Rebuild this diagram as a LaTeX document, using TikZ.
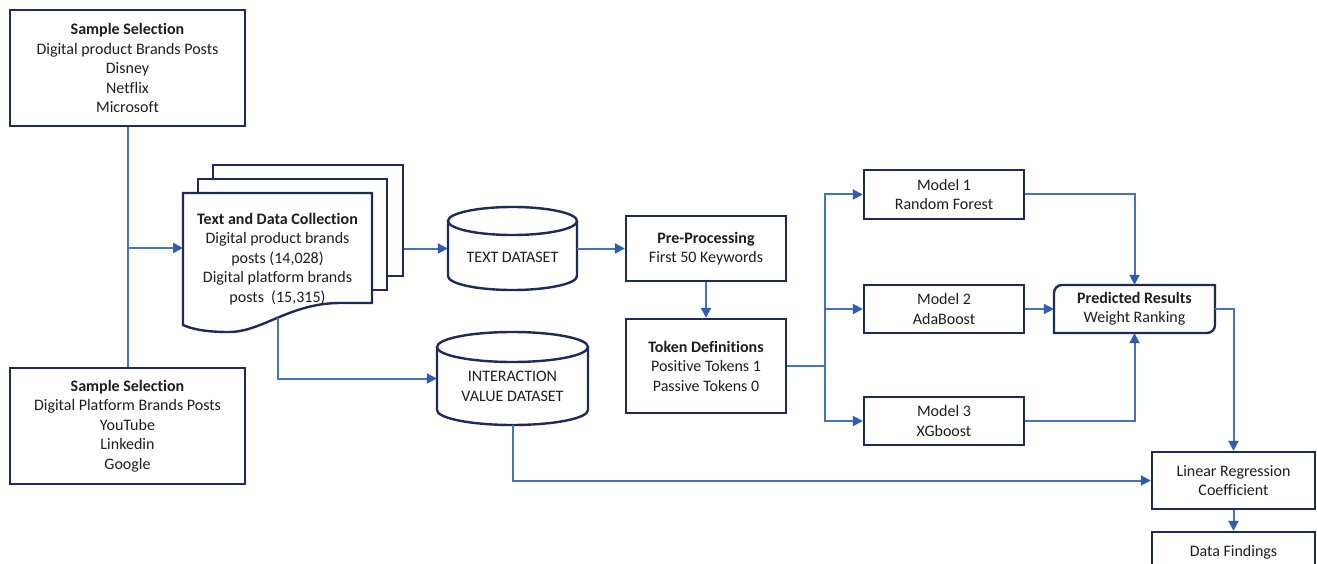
\documentclass[tikz,border=0pt]{standalone}
\usepackage{fontspec}
\setmainfont{Carlito}[Ligatures=NoCommon]
\usetikzlibrary{arrows.meta}
\definecolor{boxc}{HTML}{1F2A5C}
\definecolor{linec}{HTML}{4472C4}
\definecolor{tipc}{HTML}{2E5BB5}
\definecolor{txtc}{HTML}{1E1E1E}
\tikzset{
  box/.style={draw=boxc, line width=2.4pt, fill=white},
  blk/.style={box, minimum width=#1, inner sep=0pt, align=center, text=txtc,
    font=\fontsize{16}{19.5}\selectfont},
  txt/.style={inner sep=0pt, align=center, text=txtc, font=\fontsize{16}{19.5}\selectfont},
  hole/.style={inner sep=0pt, minimum width=#1},
  conn/.style={draw=linec, line width=2pt},
  arr/.style={conn, -{Triangle[length=10pt,width=10pt,color=tipc]}},
}
\begin{document}
\begin{tikzpicture}[x=1pt,y=-1pt]
\useasboundingbox (0,0) rectangle (1317,564);
\clip (0,0) rectangle (1317,564);
\fill[white] (0,0) rectangle (1317,564);

% sample selection boxes
\node[blk=235pt, minimum height=116pt] (ss1) at (127.5,68)
  {\textbf{Sample Selection}\\Digital product Brands Posts\\Disney\\Netflix\\Microsoft};
\node[blk=235pt, minimum height=116pt] (ss2) at (127.5,426)
  {\textbf{Sample Selection}\\Digital Platform Brands Posts\\YouTube\\Linkedin\\Google};

% document stack
\node[box, hole=190pt, minimum height=111pt] (docb) at (308,220.5) {};
\node[box, hole=189pt, minimum height=111pt] (docm) at (292.5,234.5) {};
\path[box] (183,193) -- (372,193) -- (372,303) -- (340,303)
  .. controls (290,303) and (262,332) .. (229,332)
  .. controls (205,332) and (192,329) .. (183,325) -- cycle;
\node[txt] (doc) at (277.5,259)
  {\textbf{Text and Data Collection}\\Digital product brands\\posts (14,028)\\Digital platform brands\\posts~ (15,315)};
\coordinate (docw) at (183,248);
\coordinate (docbot) at (278,317.5);

% text dataset cylinder
\node[hole=129pt, minimum height=83pt] (tds) at (512.5,248.5) {};
\path[fill=white] (448,221) -- (448,276) arc[start angle=180,end angle=0,x radius=64.5,y radius=14] -- (577,221) -- cycle;
\draw[draw=boxc, line width=2.4pt] (448,221) -- (448,276) arc[start angle=180,end angle=0,x radius=64.5,y radius=14] -- (577,221);
\draw[box] (512.5,221) ellipse[x radius=64.5, y radius=14];
\node[txt] (tdsT) at (512.5,257) {TEXT DATASET};

% interaction dataset cylinder
\node[hole=151pt, minimum height=93pt] (ids) at (512.5,378.5) {};
\path[fill=white] (437,347) -- (437,410) arc[start angle=180,end angle=0,x radius=75.5,y radius=15] -- (588,347) -- cycle;
\draw[draw=boxc, line width=2.4pt] (437,347) -- (437,410) arc[start angle=180,end angle=0,x radius=75.5,y radius=15] -- (588,347);
\draw[box] (512.5,347) ellipse[x radius=75.5, y radius=15];
\node[txt] (idsT) at (512.5,386.5) {INTERACTION\\VALUE DATASET};

% processing boxes
\node[blk=160pt, minimum height=65pt] (pre) at (706,248.5)
  {\textbf{Pre-Processing}\\First 50 Keywords};
\node[blk=160pt, minimum height=94pt] (tok) at (706,366)
  {\textbf{Token Definitions}\\Positive Tokens 1\\Passive Tokens 0};
\node[blk=160pt, minimum height=49pt] (m1) at (944,194.5) {Model 1\\Random Forest};
\node[blk=160pt, minimum height=48pt] (m2) at (944,309) {Model 2\\AdaBoost};
\node[blk=160pt, minimum height=48pt] (m3) at (944,421) {Model 3\\XGboost};

% predicted results (rounded diagonal corners)
\node[txt, minimum width=161pt, minimum height=48pt] (pred) at (1134.5,309)
  {\textbf{Predicted Results}\\Weight Ranking};
\draw[draw=boxc, line width=2.4pt] (1054,333) -- (1054,293) arc[start angle=180,end angle=270,radius=8]
  -- (1215,285) -- (1215,325) arc[start angle=0,end angle=90,radius=8] -- cycle;

\node[blk=163pt, minimum height=57pt] (lin) at (1233.5,480.5) {Linear Regression\\Coefficient};
\node[blk=163pt, minimum height=57pt] (data) at (1233.5,560.5) {};
\node[txt] (dataT) at (1233.5,552) {Data Findings};

% connectors
\draw[conn] (ss1.south) -- (ss2.north);
\draw[arr] (ss1.south |- docw) -- (docw);
\draw[arr] (docb.east |- tds.west) -- (tds.west);
\draw[arr] (docbot) |- (ids.west);
\draw[arr] (tds.east) -- (pre.west);
\draw[arr] (pre.south) -- (tok.north);
\coordinate (split) at (825,366);
\draw[conn] (tok.east) -- (split);
\draw[arr] (split) |- (m1.west);
\draw[arr] (split) |- (m3.west);
\draw[arr] (split |- m2.west) -- (m2.west);
\draw[arr] (m1.east) -| (pred.north);
\draw[arr] (m2.east) -- (pred.west);
\draw[arr] (m3.east) -| (pred.south);
\draw[arr] (pred.east) -| (lin.north);
\draw[arr] (ids.south) |- (lin.west);
\draw[arr] (lin.south) -- (data.north);
\end{tikzpicture}
\end{document}
